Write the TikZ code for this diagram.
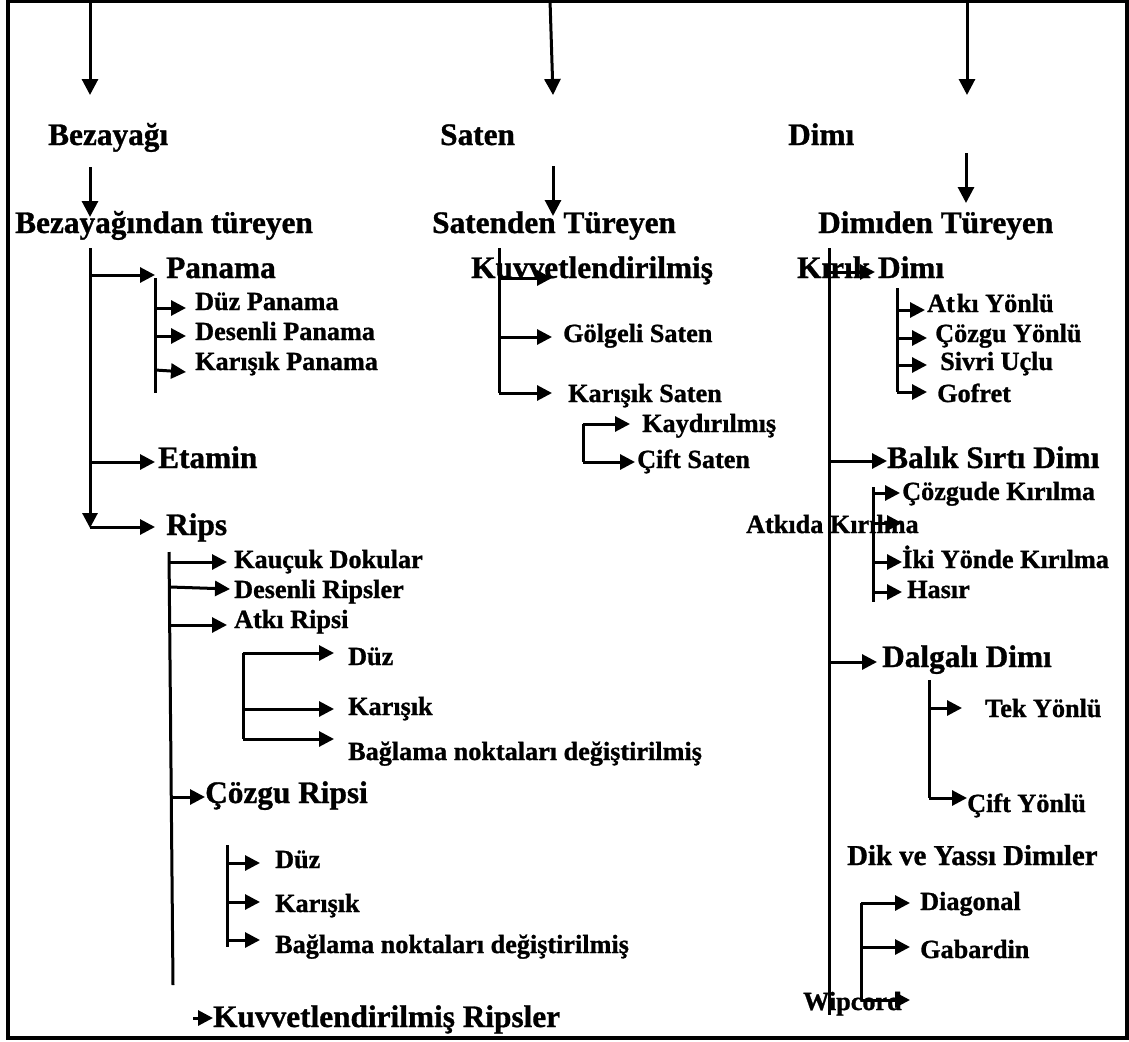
\documentclass[tikz,border=0pt]{standalone}
\usepackage{fontspec}
\setmainfont{Liberation Serif}[FakeBold=1]
\usetikzlibrary{arrows.meta}
\begin{document}
\begin{tikzpicture}[x=1pt,y=-1pt,
  ln/.style={line width=3pt},
  arr/.style={line width=3pt,-{Triangle[length=15pt,width=15pt]}},
  toparr/.style={line width=3pt,-{Triangle[length=16pt,width=16pt]}},
  big/.style={anchor=base west,inner sep=0pt,font=\fontsize{31.3}{33}\selectfont\bfseries},
  midf/.style={anchor=base west,inner sep=0pt,font=\fontsize{28.8}{30}\selectfont\bfseries},
  small/.style={anchor=base west,inner sep=0pt,font=\fontsize{26.2}{28}\selectfont\bfseries}]
\useasboundingbox (0,0) rectangle (1129,1041);
\fill[white] (0,0) rectangle (1129,1041);
\draw[line width=4pt] (8,1.5) rectangle (1127,1038);

% ---------- top level ----------
\coordinate (tA) at (90,0);   \coordinate (tAe) at (90,95);
\coordinate (tB) at (550,0);  \coordinate (tBe) at (553,95);
\coordinate (tC) at (967,0);  \coordinate (tCe) at (967,95);
\draw[toparr] (tA) -- (tAe);
\draw[toparr] (tB) -- (tBe);
\draw[toparr] (tC) -- (tCe);

\node[big] (bez) at (48,145) {Bezayağı};
\node[big] (sat) at (440,145) {Saten};
\node[big] (dim) at (788,145) {Dimı};

\coordinate (sA) at (90,167);  \coordinate (sAe) at (90,217);
\coordinate (sB) at (553,166); \coordinate (sBe) at (553,216);
\coordinate (sC) at (966,153); \coordinate (sCe) at (966,203);
\draw[toparr] (sA) -- (sAe);
\draw[toparr] (sB) -- (sBe);
\draw[toparr] (sC) -- (sCe);

\node[big] (bezT) at (15,233) {Bezayağından türeyen};
\node[big] (satT) at (432,233) {Satenden Türeyen};
\node[big] (dimT) at (818,233) {Dimıden Türeyen};

% ---------- left tree ----------
\coordinate (L0) at (90,248); \coordinate (L1) at (90,528);
\draw[arr] (L0) -- (L1);
\node[big] (pan) at (166,278) {Panama};
\coordinate (pa) at (90,275); \coordinate (pae) at (155,275);
\draw[arr] (pa) -- (pae);
\coordinate (pv0) at (155,278); \coordinate (pv1) at (155,393);
\draw[ln] (pv0) -- (pv1);
\node[small] (dpan) at (195,310) {Düz Panama};
\node[small] (despan) at (195,340) {Desenli Panama};
\node[small] (kpan) at (195,370) {Karışık Panama};
\coordinate (p1) at (155,308); \coordinate (p1e) at (186,308);
\coordinate (p2) at (155,336); \coordinate (p2e) at (186,336);
\coordinate (p3) at (155,370); \coordinate (p3e) at (186,372);
\draw[arr] (p1) -- (p1e);
\draw[arr] (p2) -- (p2e);
\draw[arr] (p3) -- (p3e);
\node[big] (eta) at (158,468) {Etamin};
\coordinate (ea) at (90,462); \coordinate (eae) at (155,462);
\draw[arr] (ea) -- (eae);
\node[big] (rips) at (166,535) {Rips};
\coordinate (ra) at (90,527); \coordinate (rae) at (155,527);
\draw[arr] (ra) -- (rae);

% rips subtree
\coordinate (rv0) at (169,552); \coordinate (rv1) at (173,985);
\draw[ln] (rv0) -- (rv1);
\node[small] (kau) at (234,568) {Kauçuk Dokular};
\node[small] (desr) at (234,598) {Desenli Ripsler};
\node[small] (atr) at (234,628) {Atkı Ripsi};
\coordinate (r1) at (170,562); \coordinate (r1e) at (227,562);
\coordinate (r2) at (170,587); \coordinate (r2e) at (230,589);
\coordinate (r3) at (170,625); \coordinate (r3e) at (227,625);
\draw[arr] (r1) -- (r1e);
\draw[arr] (r2) -- (r2e);
\draw[arr] (r3) -- (r3e);
\coordinate (av0) at (243,653); \coordinate (av1) at (243,739);
\draw[ln] (av0) -- (av1);
\node[small] (aduz) at (348,665) {Düz};
\node[small] (akar) at (348,715) {Karışık};
\node[small] (abag) at (348,760) {Bağlama noktaları değiştirilmiş};
\coordinate (a1) at (243,653); \coordinate (a1e) at (334,653);
\coordinate (a2) at (243,709); \coordinate (a2e) at (334,709);
\coordinate (a3) at (243,739); \coordinate (a3e) at (334,739);
\draw[arr] (a1) -- (a1e);
\draw[arr] (a2) -- (a2e);
\draw[arr] (a3) -- (a3e);
\node[big] (cozr) at (205,803) {Çözgu Ripsi};
\coordinate (c0) at (172,797); \coordinate (c0e) at (205,797);
\draw[arr] (c0) -- (c0e);
\coordinate (cv0) at (227,845); \coordinate (cv1) at (227,947);
\draw[ln] (cv0) -- (cv1);
\node[small] (cduz) at (275,868) {Düz};
\node[small] (ckar) at (275,912) {Karışık};
\node[small] (cbag) at (275,953) {Bağlama noktaları değiştirilmiş};
\coordinate (c1) at (227,863); \coordinate (c1e) at (260,863);
\coordinate (c2) at (227,902); \coordinate (c2e) at (260,902);
\coordinate (c3) at (227,940); \coordinate (c3e) at (260,940);
\draw[arr] (c1) -- (c1e);
\draw[arr] (c2) -- (c2e);
\draw[arr] (c3) -- (c3e);
\node[big] (kuvr) at (213,1027) {Kuvvetlendirilmiş Ripsler};
\coordinate (k0) at (193,1018); \coordinate (k0e) at (213,1018);
\draw[arr] (k0) -- (k0e);

% ---------- middle tree ----------
\coordinate (M0) at (499,248); \coordinate (M1) at (499,393);
\draw[ln] (M0) -- (M1);
\node[big] (kuv) at (471,278) {Kuvvetlendirilmiş};
\node[small] (gol) at (563,342) {Gölgeli Saten};
\node[small] (ksat) at (568,402) {Karışık Saten};
\coordinate (m1) at (499,278); \coordinate (m1e) at (552,278);
\coordinate (m2) at (499,337); \coordinate (m2e) at (552,337);
\coordinate (m3) at (499,393); \coordinate (m3e) at (552,393);
\draw[arr] (m1) -- (m1e);
\draw[arr] (m2) -- (m2e);
\draw[arr] (m3) -- (m3e);
\coordinate (mv0) at (583,424); \coordinate (mv1) at (583,462);
\draw[ln] (mv0) -- (mv1);
\node[small] (kay) at (642,432) {Kaydırılmış};
\node[small] (cift) at (637,468) {Çift Saten};
\coordinate (m4) at (583,424); \coordinate (m4e) at (630,424);
\coordinate (m5) at (583,462); \coordinate (m5e) at (635,462);
\draw[arr] (m4) -- (m4e);
\draw[arr] (m5) -- (m5e);

% ---------- right tree ----------
\coordinate (R0) at (829,248); \coordinate (R1) at (829,1015);
\draw[ln] (R0) -- (R1);
\node[big] (kirik) at (797,278) {Kırık Dimı};
\coordinate (d0) at (829,272); \coordinate (d0e) at (875,272);
\draw[arr] (d0) -- (d0e);
\coordinate (kv0) at (897,288); \coordinate (kv1) at (897,392);
\draw[ln] (kv0) -- (kv1);
\node[small] (aty) at (927,312) {At\kern2ptkı Yönlü};
\node[small] (cozy) at (935,342) {Çözgu Yönlü};
\node[small] (siv) at (940,370) {Sivri Uçlu};
\node[small] (gof) at (937,402) {Gofret};
\coordinate (d1) at (897,310); \coordinate (d1e) at (925,310);
\coordinate (d2) at (897,338); \coordinate (d2e) at (927,338);
\coordinate (d3) at (897,365); \coordinate (d3e) at (927,365);
\coordinate (d4) at (897,392); \coordinate (d4e) at (927,392);
\draw[arr] (d1) -- (d1e);
\draw[arr] (d2) -- (d2e);
\draw[arr] (d3) -- (d3e);
\draw[arr] (d4) -- (d4e);
\node[big] (balik) at (887,468) {Balık Sırtı Dimı};
\coordinate (b0) at (829,461); \coordinate (b0e) at (887,461);
\draw[arr] (b0) -- (b0e);
\coordinate (bv0) at (873,487); \coordinate (bv1) at (873,602);
\draw[ln] (bv0) -- (bv1);
\node[small] (cozk) at (902,500) {Çözgude Kırılma};
\node[small] (atk) at (746,533) {Atkıda Kırılma};
\node[small] (iki) at (902,568) {İki Yönde Kırılma};
\node[small] (has) at (907,598) {Hasır};
\coordinate (b1) at (873,493); \coordinate (b1e) at (900,493);
\coordinate (b2) at (873,523); \coordinate (b2e) at (902,523);
\coordinate (b3) at (873,562); \coordinate (b3e) at (902,562);
\coordinate (b4) at (873,592); \coordinate (b4e) at (902,592);
\draw[arr] (b1) -- (b1e);
\draw[arr] (b2) -- (b2e);
\draw[arr] (b3) -- (b3e);
\draw[arr] (b4) -- (b4e);
\node[big] (dalg) at (882,667) {Dalgalı Dimı};
\coordinate (g0) at (829,662); \coordinate (g0e) at (877,662);
\draw[arr] (g0) -- (g0e);
\coordinate (gv0) at (929,680); \coordinate (gv1) at (929,798);
\draw[ln] (gv0) -- (gv1);
\node[small] (tek) at (985,717) {Tek Yönlü};
\node[small] (cifty) at (967,812) {Çift Yönlü};
\coordinate (g1) at (929,708); \coordinate (g1e) at (962,708);
\coordinate (g2) at (929,798); \coordinate (g2e) at (967,798);
\draw[arr] (g1) -- (g1e);
\draw[arr] (g2) -- (g2e);
\node[midf] (dik) at (847,865) {Dik ve Yassı Dimıler};
\coordinate (yv0) at (861,903); \coordinate (yv1) at (861,1000);
\draw[ln] (yv0) -- (yv1);
\node[small] (diag) at (920,910) {Diagonal};
\node[small] (gab) at (920,958) {Gabardin};
\node[small] (wip) at (803,1010) {Wipcord};
\coordinate (y1) at (861,903); \coordinate (y1e) at (910,903);
\coordinate (y2) at (861,947); \coordinate (y2e) at (910,947);
\coordinate (y3) at (861,1000); \coordinate (y3e) at (910,1000);
\draw[arr] (y1) -- (y1e);
\draw[arr] (y2) -- (y2e);
\draw[arr] (y3) -- (y3e);
\end{tikzpicture}
\end{document}
